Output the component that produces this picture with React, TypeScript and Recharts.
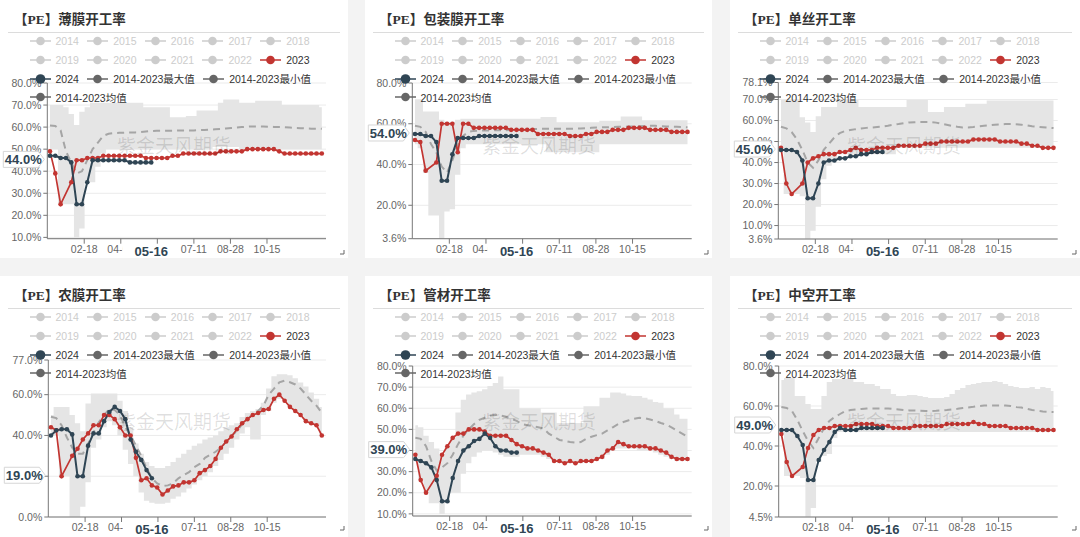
import React from "react";
import { ComposedChart, Area, Line, XAxis, YAxis, CartesianGrid, ReferenceLine } from "recharts";

const RED = "#c23531";
const NAVY = "#2f4554";
const FONT = "'Liberation Sans', 'Noto Sans CJK SC', sans-serif";

// weekly dates (2024 calendar)
const weekDates = [
  "01-04", "01-11", "01-18", "01-25", "02-01", "02-08", "02-15", "02-22", "02-29", "03-07",
  "03-14", "03-21", "03-28", "04-04", "04-11", "04-18", "04-25", "05-02", "05-09", "05-16",
  "05-23", "05-30", "06-06", "06-13", "06-20", "06-27", "07-04", "07-11", "07-18", "07-25",
  "08-01", "08-08", "08-15", "08-22", "08-29", "09-05", "09-12", "09-19", "09-26", "10-03",
  "10-10", "10-17", "10-24", "10-31", "11-07", "11-14", "11-21", "11-28", "12-05", "12-12",
  "12-19", "12-26",
];
const xTickDates = ["02-18", "04-06", "05-24", "07-11", "08-28", "10-15"];
const pointerDate = "05-16";

const legendRows = [
  ["2014", "2015", "2016", "2017", "2018"],
  ["2019", "2020", "2021", "2022", "2023"],
  ["2024", "2014-2023最大值", "2014-2023最小值"],
  ["2014-2023均值"],
];

// 薄膜
const film2023 = [49, 39, 25, null, 35, 45, 45, 46, 46, 46, 47, 47, 47, 47, 47, 47, 47, 47, 46, 46, 46, 46, 46, 47, 47, 48, 48, 48, 48, 48, 48, 48, 49, 49, 49, 49, 49, 50, 50, 50, 50, 50, 50, 49, 48, 48, 48, 48, 48, 48, 48, 48];
const film2024 = [47, 47, 46, 46, 44, 25, 25, 35, 45, 45, 45, 45, 45, 45, 45, 44, 44, 44, 44, 44];
const filmMax = [70, 70, 70, 69, 66, 61, 67, 69, 71, 71, 71, 71, 71, 71, 71, 71, 71, 71, 69, 69, 69, 69, 69, 64.5, 64.5, 64.5, 65, 65, 67.5, 67.5, 67.5, 67.5, 71, 72.5, 72.5, 72.5, 71, 71, 71, 72, 72, 72, 72, 72, 70, 70, 70, 70, 70, 70, 70, 69];
const filmMin = [50, 50, 25, 25, 25, 10, 14, 35, 35, 42, 48, 50, 50, 50, 50, 50, 50, 50, 50, 50, 50, 50, 50, 50, 50, 50, 50, 50, 50, 50, 50, 51, 51, 51, 51, 51, 50, 50, 50, 50, 50, 50, 50, 50, 50, 50, 50, 50, 50, 50, 50, 50];
const filmMean = [60.7, 60.5, 58.5, 49, 44, 39, 40, 45, 50, 53, 56, 57, 57.3, 57.4, 57.5, 57.5, 57.6, 57.7, 58, 58.2, 58.3, 58.3, 58.4, 58.4, 58.5, 58.5, 58.5, 58.5, 58.6, 58.7, 58.8, 59, 59.2, 59.4, 59.6, 59.8, 60, 60.2, 60.3, 60.3, 60.3, 60.2, 60.1, 60, 60, 59.8, 59.6, 59.5, 59.4, 59.3, 59.3, 59.2];

// 包装膜
const pack2023 = [52, 51, 37, null, 41, 60, 60, 60, 46, 60, 60, 58, 58, 58, 58, 58, 58, 58, 57, 57, 57, 57, 57, 55, 55, 55, 55, 55, 55, 54, 54, 54, 55, 55, 56, 56, 56, 57, 57, 57, 58, 58, 58, 58, 57, 57, 57, 57, 56, 56, 56, 56];
const pack2024 = [55, 55, 54, 54, 51, 32, 32, 45, 53, 53, 53, 53, 54, 54, 54, 54, 54, 54, 54, 54];
const packMax = [72, 72, 66, 66, 66, 62, 61, 61, 62, 62.5, 62.5, 62.5, 62.5, 62.5, 62.5, 62.5, 62.5, 62.5, 62.5, 62.5, 62.5, 62.5, 62.5, 62.5, 63.3, 63.3, 63.3, 60.8, 60.8, 60.8, 60.8, 60.8, 60.8, 60.8, 60.8, 61.5, 61.5, 61.5, 61.5, 63.6, 63.6, 63.6, 63.6, 61.7, 61.7, 61.7, 61.7, 61.7, 61.7, 61.7, 61.7, 61.7];
const packMin = [50, 48, 36, 15, 15, 3.6, 17, 18, 35, 48, 50, 50, 50, 50, 50, 50, 50, 50, 50, 50, 50, 50, 50, 50, 50, 46, 46, 46, 46, 46, 46, 46, 46, 46, 46, 50, 50, 50, 50, 50, 50, 50, 50, 50, 50, 50, 50, 50, 50, 50, 50, 50];
const packMean = [59, 58.5, 56, 50, 46, 39, 36, 42, 50, 54, 56, 56.5, 56.7, 56.7, 56.7, 56.8, 56.8, 56.8, 56.9, 57, 57, 57.2, 57.4, 57.5, 57.5, 57.5, 57.5, 57.5, 57.5, 57.5, 57.6, 57.7, 57.8, 58, 58.2, 58.3, 58.3, 58.4, 58.5, 58.5, 58.6, 58.7, 58.8, 58.9, 59, 59, 58.8, 58.7, 58.6, 58.5, 58.4, 58.3];

// 单丝
const mono2023 = [47, 30, 25, null, 30, 40, 42, 43, 44, 44, 44, 45, 45, 46, 47, 46, 46, 46, 47, 47, 47, 47, 48, 48, 48, 48, 48, 49, 49, 49, 50, 50, 50, 50, 50, 50, 51, 51, 51, 51, 51, 50, 50, 50, 50, 49, 49, 48, 48, 47, 47, 47];
const mono2024 = [46, 46, 46, 45, 41, 23, 23, 30, 40, 41, 41, 42, 42, 43, 43, 44, 44, 45, 45, 45];
const monoMax = [69.8, 69.8, 69.8, 69.8, 61.6, 59, 54.5, 62, 66.4, 66.4, 66.4, 69.8, 69.8, 69.8, 69.8, 66.4, 66.4, 66.4, 66.4, 66.4, 66.4, 66.4, 66.4, 66.4, 69.8, 69.8, 69.8, 69.8, 64, 64, 64, 66.4, 66.4, 66.4, 66.4, 68, 68, 68, 68, 69.5, 69.5, 69.5, 69.5, 69.5, 69.5, 69.5, 69.5, 69.5, 69.5, 69.5, 69.5, 69.5];
const monoMin = [46, 25, 25, 25, 24, 3.6, 7.5, 19, 32, 38.5, 42, 44, 44, 44, 44, 44, 44, 44, 44, 44, 44, 44, 47, 47, 47, 47, 47, 47, 47, 47, 47, 47, 47, 47, 47, 47, 47, 47, 47, 47, 47, 47, 47, 47, 47, 47, 47, 47, 47, 47, 47, 47];
const monoMean = [57, 56.3, 54.5, 51, 46, 40, 37.5, 41, 46, 49, 52, 54, 55, 55.5, 55.9, 56.2, 56.5, 56.7, 56.9, 57.1, 57.5, 58, 58.3, 58.7, 59.1, 59.2, 59.3, 59.3, 59.3, 59, 58.5, 58, 57.4, 57, 56.7, 56.7, 56.9, 57.2, 57.5, 57.7, 58, 58.1, 58.3, 58.3, 58.2, 58, 57.7, 57.3, 57, 56.8, 56.6, 56.4];

// 农膜
const agri2023 = [44, 42.5, 20, null, 30, 33.5, 38, 41, 45, 45, 50, 50, 48, 44, 40, 40, 29, 18, 19, 15.5, 14.5, 11, 13, 15, 15.5, 17, 17, 18, 21.5, 23, 25, 28.5, 34, 37, 39.5, 43, 46, 48, 50, 51, 52.5, 53, 58, 60, 57, 54, 52, 50, 47, 46, 45, 40];
const agri2024 = [40, 42.5, 43, 43, 40.5, 20, 20, 35, 41, 41, 47, 51.5, 54, 52, 48, 38, 32, 28, 23, 19];
const agriMax = [50, 54, 54, 54, 50, 46, 42, 55.7, 60.6, 60.6, 60.6, 60.6, 60.6, 57, 52, 44, 36, 31, 27, 25, 24, 24, 25, 27, 29, 31, 33, 35, 36, 38, 39, 40, 42, 44, 45, 46, 49, 51, 52, 53, 56, 63, 69, 70, 70, 69.5, 68, 66, 64, 61, 58, 54];
const agriMin = [40, 40, 20, 20, 0, 0, 5, 17, 34, 38, 44, 47, 45, 40, 33, 26, 20, 12, 8, 7, 6.5, 6.5, 7, 9, 10, 12, 14, 16, 18, 20, 22, 25, 28, 31, 34, 38, 41, 44, 38, 38, 50, 52, 56, 58, 57, 54, 52, 50, 47, 46, 45, 40];
const agriMean = [49.2, 48.5, 45, 39, 34, 31, 31, 36, 41.5, 46.4, 50, 53, 52.5, 50, 44, 40, 35, 30, 24, 19, 16.5, 15.2, 15.5, 16.5, 19, 20.5, 22, 24.5, 26, 29, 30.5, 32, 34, 37, 40, 42, 45.5, 48, 50.5, 52, 54.6, 60, 63, 66, 66.9, 66.1, 65, 63, 60, 57, 54.6, 51];

// 管材
const pipe2023 = [38, 26, 20, null, 28, 38, 42, 46, 48, 48, 50, 50, 50, 49, 47, 47, 47, 47, 45, 43, 42, 41, 41, 40, 39, 38, 35, 35, 34, 35, 34, 35, 35, 35, 36, 37, 40, 41, 44, 43, 42, 42, 42, 42, 41, 41, 40, 39, 37, 36, 36, 36];
const pipe2024 = [36, 35, 34, 32, 26, 16, 16, 27, 35, 40, 42, 44.5, 45.5, 48, 46, 42, 40, 40, 39, 39];
const pipeMax = [52, 51, 47, 44, 41, 38, 42, 46, 58, 64, 66.5, 67.5, 68, 69, 70.5, 72, 75, 69, 69, 69, 60, 60, 60, 60, 58, 58, 58, 53, 53, 53, 53, 53, 61, 61, 61, 65, 65, 67.4, 67.4, 67, 66, 65.8, 65.8, 65, 64.2, 63, 62.6, 60, 60, 57, 55, 55];
const pipeMin = [37, 26, 20, 15, 15, 10, 15, 20, 20, 29, 34, 37, 39, 40, 40, 39, 38, 37, 37, 37, 38, 38, 38, 38, 37, 36, 35, 34, 34, 34, 34, 34, 35, 35, 36, 36, 38, 40, 41, 41, 41, 41, 40, 40, 40, 39, 38, 37, 36, 35, 35, 35];
const pipeMean = [46, 45.5, 42, 35, 30.5, 32, 34, 38, 43, 47, 50, 52.5, 54.5, 55.5, 56.5, 57, 56.5, 56, 55, 54, 52.5, 52, 51.5, 51, 50.5, 48, 46.5, 45, 44.5, 44, 43.7, 44, 45.5, 46.5, 47.3, 48, 49.5, 51, 52.5, 53.5, 54.3, 55, 55.5, 55.3, 54.7, 54, 53, 52.3, 51, 49.5, 48, 46.5];

// 中空
const hollow2023 = [46, 32, 25, null, 29.5, 39, 45.5, 48, 49, 49, 50, 50, 50, 50, 51, 51, 51, 51, 50, 50, 50, 49, 49, 49, 49, 50, 50, 50, 50, 50, 50, 51, 51, 51, 51, 51, 52, 51, 51, 50, 50, 50, 50, 49, 49, 49, 49, 49, 48, 48, 48, 48];
const hollow2024 = [48, 48, 48, 45, 40.5, 23, 23, 33, 38, 42, 47, 49, 48, 48, 48, 49, 49, 49, 49, 49];
const hollowMax = [73, 74, 74, 65, 65, 61, 58.5, 58.5, 65, 72, 73.5, 73.5, 73.5, 73.5, 72, 72, 71, 71, 70, 68.5, 68.5, 66, 65, 65, 65.5, 65.5, 65, 64.5, 64, 64, 64, 64.5, 66, 68, 69, 70.5, 71, 71.5, 72, 72, 72.5, 72, 71, 70, 69.5, 69, 69, 69.5, 68.5, 69.5, 69, 67.5];
const hollowMin = [46, 25, 25, 25, 24, 4.5, 9, 32, 35, 36, 44, 47, 47, 47, 47, 47, 47, 47, 47, 47, 47, 47, 47, 47, 47, 47, 47, 47, 47, 47, 47, 47, 47, 47, 47, 47, 47, 47, 47, 47, 47, 47, 47, 47, 47, 47, 47, 47, 47, 47, 47, 47];
const hollowMean = [59.5, 59, 57.5, 53, 47.5, 42.5, 39, 44, 49, 52.5, 54.5, 56, 57.5, 58, 58.3, 58.5, 58.7, 58.8, 58.8, 58.8, 58.7, 58.5, 58.3, 58, 57.8, 57.7, 57.6, 57.5, 57.5, 57.6, 57.8, 58, 58.3, 58.6, 59, 59.3, 59.6, 60, 60.2, 60.3, 60.3, 60.3, 60.2, 60, 59.5, 59.2, 58.6, 58, 57.6, 57.3, 57.1, 57];

const monthStart = [0, 31, 60, 91, 121, 152, 182, 213, 244, 274, 305, 335];
const dayOf = (md: string) => {
  const [m, d] = md.split("-").map(Number);
  return monthStart[m - 1] + d - 0.5;
};
const xTicks = xTickDates.map(dayOf);
const pointerDay = dayOf(pointerDate);

const panels = [
  { title: "【PE】薄膜开工率", card: [0, 0, 348, 258], plot: [47.3, 326, 83, 238.7], domain: [9.4, 80], ticks: [10, 20, 30, 40, 50, 60, 70, 80], y2023: film2023, y2024: film2024, max: filmMax, min: filmMin, mean: filmMean },
  { title: "【PE】包装膜开工率", card: [365, 0, 347, 258], plot: [47.3, 326.7, 83, 238.7], domain: [3.6, 80], ticks: [3.6, 20, 40, 60, 80], y2023: pack2023, y2024: pack2024, max: packMax, min: packMin, mean: packMean },
  { title: "【PE】单丝开工率", card: [730, 0, 350, 258], plot: [48.3, 327.7, 82.5, 239], domain: [3.6, 78.1], ticks: [3.6, 10, 20, 30, 40, 50, 60, 70, 78.1], y2023: mono2023, y2024: mono2024, max: monoMax, min: monoMin, mean: monoMean },
  { title: "【PE】农膜开工率", card: [0, 276, 348, 261], plot: [48.3, 326, 84, 241], domain: [0, 77], ticks: [0, 20, 40, 60, 77], y2023: agri2023, y2024: agri2024, max: agriMax, min: agriMin, mean: agriMean },
  { title: "【PE】管材开工率", card: [365, 276, 347, 261], plot: [47.7, 326.7, 90, 240], domain: [9, 80], ticks: [10, 20, 30, 40, 50, 60, 70, 80], y2023: pipe2023, y2024: pipe2024, max: pipeMax, min: pipeMin, mean: pipeMean },
  { title: "【PE】中空开工率", card: [730, 276, 350, 261], plot: [48.7, 327.7, 90, 241], domain: [4.5, 80], ticks: [4.5, 20, 40, 60, 80], y2023: hollow2023, y2024: hollow2024, max: hollowMax, min: hollowMin, mean: hollowMean },
];

const legendColor = (name: string) =>
  name === "2023" ? RED : name === "2024" ? NAVY : name.startsWith("2014-") ? "#666" : "#ccc";

// axis-pointer label on the x axis (white box hides the tick text beneath it)
const XPointer = (props: any) => {
  const vb = props.viewBox || {};
  const x = vb.x;
  const yb = (vb.y || 0) + (vb.height || 0);
  return (
    <g>
      <rect x={x - 29} y={yb + 5.5} width={48} height={16} fill="#fff" />
      <text x={x} y={yb + 12.5} dy="0.35em" textAnchor="middle" fontSize={13} fontWeight="bold" fill={NAVY} fontFamily={FONT}>
        {props.lbl}
      </text>
    </g>
  );
};

// axis-pointer label on the y axis
const YPointer = (props: any) => {
  const vb = props.viewBox || {};
  const x = vb.x;
  const cy = vb.y - 3;
  const d = `M${x - 44},${cy - 8} H${x - 9} L${x - 3},${cy} L${x - 9},${cy + 8} H${x - 44} Z`;
  return (
    <g>
      <path d={d} fill="#fff" stroke="#d6d6d6" strokeWidth={1} />
      <text x={x - 24} y={cy} dy="0.36em" textAnchor="middle" fontSize={13} fontWeight="bold" fill={NAVY} fontFamily={FONT}>
        {props.lbl}
      </text>
    </g>
  );
};

function Panel({ p }: { p: any }) {
  const [cx, cy, w, h] = p.card;
  const [L, R, T, B] = p.plot;
  const rows = weekDates.map((d, i) => ({
    x: dayOf(d),
    band: [p.min[i], p.max[i]],
    mean: p.mean[i],
    y2023: p.y2023[i],
    y2024: i < p.y2024.length ? p.y2024[i] : null,
  }));
  const last = p.y2024[p.y2024.length - 1];
  const legendY = [41.3, 59.8, 78.5, 97];
  return (
    <div style={{ position: "absolute", left: cx, top: cy, width: w, height: h, background: "#fff", overflow: "hidden" }}>
      <div style={{ position: "absolute", left: 0, top: 0 }}>
        <ComposedChart
          width={w}
          height={h}
          data={rows}
          margin={{ top: T, right: w - R, bottom: h - B - 10, left: L - 40 }}
        >
          <CartesianGrid vertical={false} stroke="#ebebeb" />
          <XAxis
            dataKey="x"
            type="number"
            domain={[0, 366]}
            allowDataOverflow
            ticks={xTicks}
            interval={0}
            height={10}
            tickSize={5}
            axisLine={{ stroke: "#777" }}
            tickLine={{ stroke: "#777" }}
            tick={{ fontSize: 10.5, fill: "#666", fontFamily: FONT }}
            tickFormatter={(v: number) => (Math.abs(v - pointerDay) < 10 ? "" : xTickDates[xTicks.indexOf(v)] ?? "")}
          />
          <YAxis
            type="number"
            domain={p.domain}
            allowDataOverflow
            ticks={p.ticks}
            interval={0}
            width={40}
            tickSize={4}
            axisLine={{ stroke: "#777" }}
            tickLine={{ stroke: "#777" }}
            tick={{ fontSize: 10.5, fill: "#666", fontFamily: FONT }}
            tickFormatter={(v: number) => (Math.abs(v - last) < 1.5 ? "" : v.toFixed(1) + "%")}
          />
          <Area dataKey="band" type="step" fill="#e5e5e5" fillOpacity={1} stroke="none" isAnimationActive={false} activeDot={false} />
          <Line dataKey="mean" type="linear" stroke="#a5a5a5" strokeWidth={2} strokeDasharray="7 5" dot={false} isAnimationActive={false} activeDot={false} />
          <Line dataKey="y2023" type="linear" stroke={RED} strokeWidth={1.7} connectNulls dot={{ r: 2.3, fill: RED, stroke: RED, strokeWidth: 0 }} isAnimationActive={false} activeDot={false} />
          <Line dataKey="y2024" type="linear" stroke={NAVY} strokeWidth={2} dot={{ r: 2.3, fill: NAVY, stroke: NAVY, strokeWidth: 0 }} isAnimationActive={false} activeDot={false} />
        </ComposedChart>
      </div>
      {/* overlay chart with the same scales, drawing the axis-pointer labels on top */}
      <div style={{ position: "absolute", left: 0, top: 0 }}>
        <ComposedChart
          width={w}
          height={h}
          data={rows}
          margin={{ top: T, right: w - R, bottom: h - B, left: L }}
        >
          <XAxis dataKey="x" type="number" domain={[0, 366]} allowDataOverflow hide />
          <YAxis type="number" domain={p.domain} allowDataOverflow hide />
          <ReferenceLine x={pointerDay} stroke="none" label={<XPointer lbl={pointerDate} />} />
          <ReferenceLine y={last} stroke="none" label={<YPointer lbl={last.toFixed(1) + "%"} />} />
        </ComposedChart>
      </div>
      <div style={{ position: "absolute", left: 14, top: 11, fontSize: 13.5, fontWeight: "bold", color: "#333", fontFamily: "'Liberation Serif', 'Noto Sans CJK SC', serif", lineHeight: "18px", whiteSpace: "nowrap" }}>
        {p.title}
      </div>
      <div style={{ position: "absolute", left: 8, top: 32, width: w - 16, height: 1, background: "#dcdcdc" }} />
      {legendRows.map((row, ri) => (
        <div key={ri} style={{ position: "absolute", left: 29.5, top: legendY[ri] - 7, height: 14, display: "flex", alignItems: "center", whiteSpace: "nowrap", fontFamily: FONT, fontSize: 10.5 }}>
          {row.map((name) => {
            const c = legendColor(name);
            return (
              <div key={name} style={{ display: "flex", alignItems: "center", marginRight: 8.3 }}>
                <svg width={21} height={12} style={{ marginRight: 5 }}>
                  <line x1={0} y1={6} x2={21} y2={6} stroke={c} strokeWidth={1.5} />
                  <circle cx={10.5} cy={6} r={name === "2024" ? 4.8 : 4.3} fill={c} />
                </svg>
                <span style={{ color: c === "#ccc" ? "#ccc" : "#333" }}>{name}</span>
              </div>
            );
          })}
        </div>
      ))}
      <div style={{ position: "absolute", left: 174, top: 144, transform: "translate(-50%, -50%)", fontSize: 19, color: "rgba(0,0,0,0.13)", fontFamily: "'Noto Sans CJK SC', sans-serif", whiteSpace: "nowrap", pointerEvents: "none" }}>
        紫金天风期货
      </div>
      <svg width={5} height={5} style={{ position: "absolute", left: w - 8, top: 250 }}>
        <path d="M0,4 H4 V0" stroke="#666" strokeWidth={1} fill="none" />
      </svg>
    </div>
  );
}

export default function App() {
  return (
    <div style={{ position: "fixed", left: 0, top: 0, width: 1080, height: 537, background: "#f3f3f3", overflow: "hidden" }}>
      {panels.map((p, i) => (
        <Panel key={i} p={p} />
      ))}
    </div>
  );
}
